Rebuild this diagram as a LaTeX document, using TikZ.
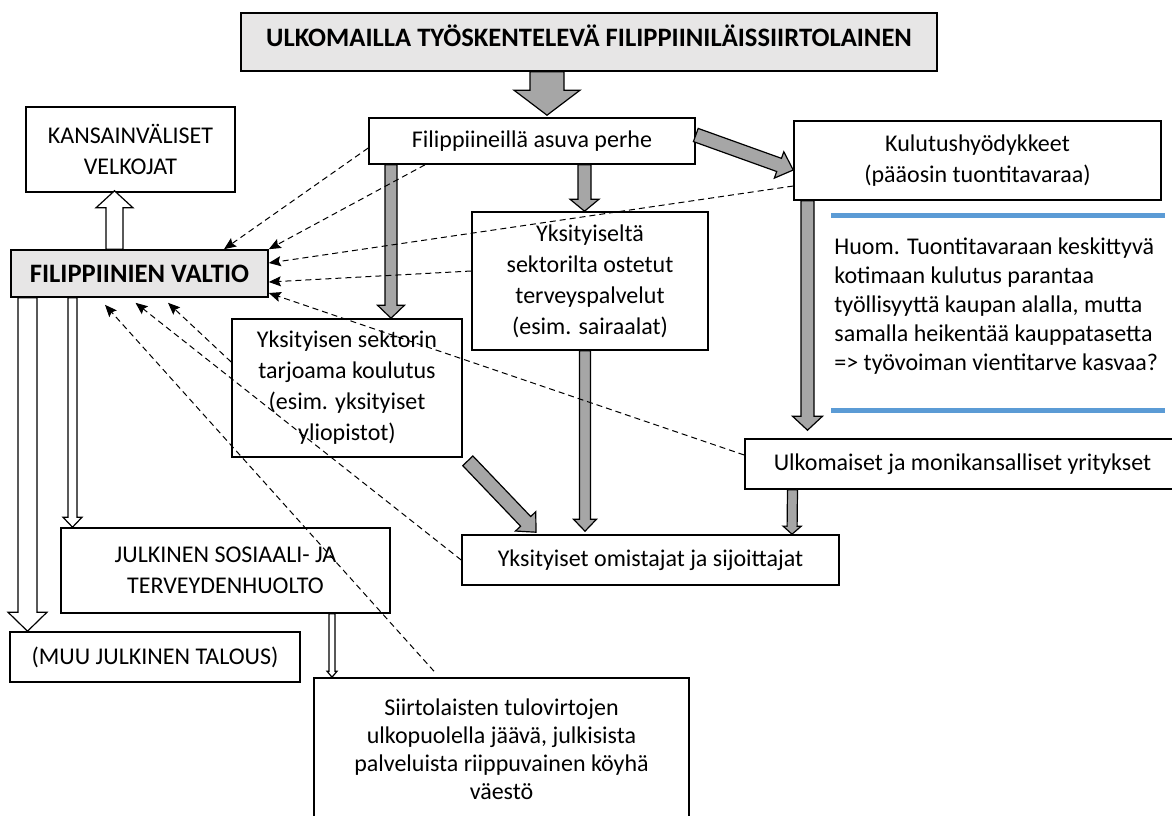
\documentclass[tikz,border=0pt]{standalone}
\usepackage{fontspec}
\setmainfont{Carlito}
\usetikzlibrary{arrows,arrows.meta,calc}

\definecolor{headgray}{RGB}{231,230,230}
\definecolor{arrowgray}{RGB}{166,166,166}
\definecolor{noteblue}{RGB}{91,155,213}

% block arrow: style, start, end, half shaft, half head, head length
\newcommand{\fatarrow}[6]{%
  \path #2 coordinate (fa-a) #3 coordinate (fa-b) ($(fa-b)!#6!(fa-a)$) coordinate (fa-c);
  \draw[#1] ($(fa-a)!#4!90:(fa-b)$) -- ($(fa-c)!#4!90:(fa-b)$) -- ($(fa-c)!#5!90:(fa-b)$)
    -- (fa-b) -- ($(fa-c)!#5!-90:(fa-b)$) -- ($(fa-c)!#4!-90:(fa-b)$) -- ($(fa-a)!#4!-90:(fa-b)$) -- cycle;
}

\begin{document}
\begin{tikzpicture}[x = 0.5pt, y = -0.5pt, font = \fontsize{12}{15.5}\selectfont]
\tikzstyle{BoxStyle}=[draw, line width = 0.8pt,
                      align = center,
                      inner sep = 0pt]
\tikzstyle{HeadStyle}=[BoxStyle, fill = headgray,
                       font = \fontsize{13.3}{16}\selectfont\bfseries]
\tikzstyle{FlowStyle}=[fill = arrowgray, draw = black, line width = 0.6pt]
\tikzstyle{PipeStyle}=[fill = white, draw = black, line width = 0.6pt]
\tikzstyle{TaxStyle}=[dash pattern = on 3pt off 2pt, line width = 0.5pt,
                      -{Stealth[length = 6pt, width = 5pt, inset = 1pt]}]
\useasboundingbox (0,0) rectangle (1172,815);
\node[HeadStyle, minimum width = 348pt, minimum height = 29pt,
      text height = 9.5pt, text depth = 5pt] (top) at (589,42) {ULKOMAILLA TYÖSKENTELEVÄ FILIPPIINILÄISSIIRTOLAINEN};
\node[BoxStyle, minimum width = 163pt, minimum height = 23pt] (perhe) at (532,141) {Filippiineillä asuva perhe};
\node[BoxStyle, minimum width = 104.5pt, minimum height = 42.5pt] (velka) at (130.5,149.5) {KANSAINVÄLISET\\VELKOJAT};
\node[HeadStyle, minimum width = 128.5pt, minimum height = 23.5pt] (valtio) at (139.5,273.5) {FILIPPIINIEN VALTIO};
\node[BoxStyle, minimum width = 183.5pt, minimum height = 39.5pt] (kulutus) at (977.5,160.5) {Kulutushyödykkeet\\(pääosin tuontitavaraa)};
\node[BoxStyle, minimum width = 118pt, minimum height = 69pt] (terveys) at (590,281) {Yksityiseltä\\sektorilta ostetut\\terveyspalvelut\\(esim. sairaalat)};
\node[BoxStyle, minimum width = 115pt, minimum height = 69pt] (koulu) at (347,388) {Yksityisen sektorin\\tarjoama koulutus\\(esim. yksityiset\\yliopistot)};
\node[BoxStyle, minimum width = 217.5pt, minimum height = 25pt] (yritys) at (962.5,464) {Ulkomaiset ja monikansalliset yritykset};
\node[BoxStyle, minimum width = 188.5pt, minimum height = 25pt] (omistaja) at (650.5,560) {Yksityiset omistajat ja sijoittajat};
\node[BoxStyle, minimum width = 164.5pt, minimum height = 42.5pt] (julkinen) at (225.5,570.5) {JULKINEN SOSIAALI- JA\\TERVEYDENHUOLTO};
\node[BoxStyle, minimum width = 145pt, minimum height = 25pt] (muu) at (155,657) {(MUU JULKINEN TALOUS)};
\node[BoxStyle, minimum width = 187.5pt, minimum height = 71pt,
      font = \fontsize{12}{14}\selectfont] (koyha) at (501.5,749) {Siirtolaisten tulovirtojen\\ulkopuolella jäävä, julkisista\\palveluista riippuvainen köyhä\\väestö};
\node[anchor = north west, align = left, inner sep = 0pt,
      font = \fontsize{12}{14.5}\selectfont] (huom) at (834,237) {Huom. Tuontitavaraan keskittyvä\\kotimaan kulutus parantaa\\työllisyyttä kaupan alalla, mutta\\samalla heikentää kauppatasetta\\=> työvoiman vientitarve kasvaa?};
\draw[noteblue, line width = 2.5pt] (831,215) -- (1165,215);
\draw[noteblue, line width = 2.5pt] (831,410) -- (1165,410);
% money flows
\fatarrow{FlowStyle}{([xshift=-21pt]top.south)}{([xshift=7.5pt,yshift=1pt]perhe.north)}{8.5pt}{16.5pt}{12.5pt}
\fatarrow{FlowStyle}{([xshift=-70.5pt]perhe.south)}{([xshift=22pt]koulu.north)}{3pt}{6.75pt}{6.5pt}
\fatarrow{FlowStyle}{([xshift=26.25pt]perhe.south)}{([xshift=-2.75pt]terveys.north)}{3.25pt}{7.25pt}{6pt}
\fatarrow{FlowStyle}{([yshift=3pt]perhe.east)}{([yshift=-4.75pt]kulutus.west)}{3.5pt}{7pt}{7.5pt}
\fatarrow{FlowStyle}{([xshift=-85pt]kulutus.south)}{([xshift=-77.5pt,yshift=4pt]yritys.north)}{3.25pt}{7.5pt}{7pt}
\fatarrow{FlowStyle}{([xshift=-85pt]yritys.south)}{([xshift=70.75pt]omistaja.north)}{2.5pt}{4.5pt}{4pt}
\fatarrow{FlowStyle}{([xshift=-2.5pt]terveys.south)}{([xshift=-32.75pt,yshift=1.5pt]omistaja.north)}{2.75pt}{5.75pt}{6pt}
\fatarrow{FlowStyle}{([xshift=2.5pt,yshift=-1.5pt]koulu.south east)}{([xshift=-57.25pt,yshift=1pt]omistaja.north)}{3.5pt}{7pt}{7.5pt}
% public money
\fatarrow{PipeStyle}{([xshift=-12.5pt]valtio.north)}{([xshift=-8pt,yshift=1pt]velka.south)}{4.25pt}{9.25pt}{8.5pt}
\fatarrow{PipeStyle}{([xshift=-56pt]valtio.south)}{([xshift=-63.75pt]muu.north)}{4.75pt}{9.75pt}{9.5pt}
\fatarrow{PipeStyle}{([xshift=-33.5pt]valtio.south)}{([xshift=-76.5pt]julkinen.north)}{2.25pt}{4.75pt}{5pt}
\fatarrow{PipeStyle}{([xshift=53.25pt]julkinen.south)}{([xshift=-84.75pt]koyha.north)}{1.5pt}{2.5pt}{3pt}
% taxes
\draw[TaxStyle] ([yshift=-3.5pt]perhe.west) -- ([xshift=42.25pt]valtio.north);
\draw[TaxStyle] ([xshift=-53.5pt]perhe.south) -- (valtio.north east);
\draw[TaxStyle] ([yshift=-12.75pt]kulutus.west) -- ([yshift=5.25pt]valtio.east);
\draw[TaxStyle] ([yshift=5pt]terveys.west) -- ([yshift=-4.25pt]valtio.east);
\draw[TaxStyle] ([yshift=4.5pt]yritys.west) -- ([yshift=-9.75pt]valtio.east);
\draw[TaxStyle] (omistaja.west) -- ([xshift=-2pt,yshift=-2.5pt]valtio.south);
\draw[TaxStyle] ([yshift=13pt]koulu.west) -- ([xshift=14.25pt,yshift=-2.5pt]valtio.south);
\draw[TaxStyle] ([xshift=-33.75pt,yshift=3pt]koyha.north) -- ([xshift=-17.25pt,yshift=-3.5pt]valtio.south);
\end{tikzpicture}
\end{document}
